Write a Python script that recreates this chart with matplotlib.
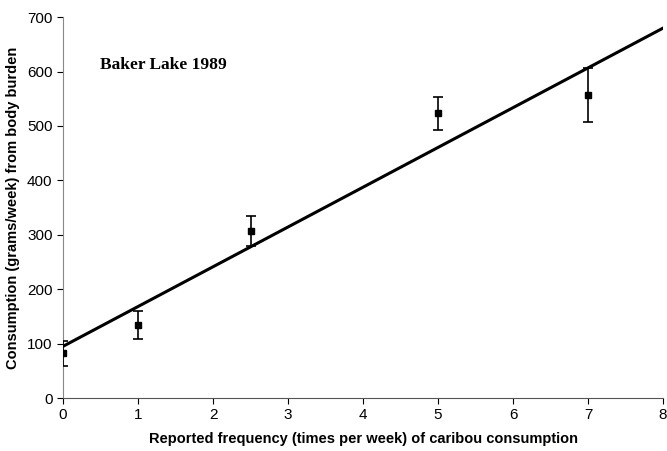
import numpy as np
import matplotlib.pyplot as plt

# Baker Lake 1989: reported frequency vs body-burden estimate
freq = [0, 1, 2.5, 5, 7]
consumption = [82, 134, 307, 523, 557]
err = [23, 26, 28, 31, 50]

# fitted line
intercept = 95
slope = 73.1
x_line = np.array([0, 8])

fig = plt.figure(figsize=(6.67, 4.51), dpi=100)
ax = fig.add_axes([0.0945, 0.1175, 0.8995, 0.8445])

ax.plot(x_line, intercept + slope * x_line, color='black', lw=2.2, zorder=3)
ax.errorbar(freq, consumption, yerr=err, fmt='s', color='black', ms=4.5,
            elinewidth=1.2, capsize=3.5, capthick=1.2, zorder=4)

ax.set_xlim(0, 8)
ax.set_ylim(0, 700)
ax.set_xticks(range(0, 9))
ax.set_yticks(range(0, 701, 100))

for s in ['top', 'right']:
    ax.spines[s].set_visible(False)
ax.spines['left'].set_color('#888888')
ax.spines['bottom'].set_color('#555555')
ax.spines['bottom'].set_linestyle((0, (4, 1)))
ax.tick_params(direction='out', length=4, labelsize=11, colors='black')
for lab in ax.get_xticklabels() + ax.get_yticklabels():
    lab.set_family('Liberation Sans')

ax.set_xlabel('Reported frequency (times per week) of caribou consumption',
              fontsize=10.5, fontweight='bold', family='Liberation Sans', labelpad=7)
ax.set_ylabel('Consumption (grams/week) from body burden',
              fontsize=10.5, fontweight='bold', family='Liberation Sans', labelpad=5)

ax.text(0.49, 612, 'Baker Lake 1989', fontsize=12.5, fontweight='bold',
        family='Liberation Serif', va='center')

fig.savefig('out.png', dpi=100)
